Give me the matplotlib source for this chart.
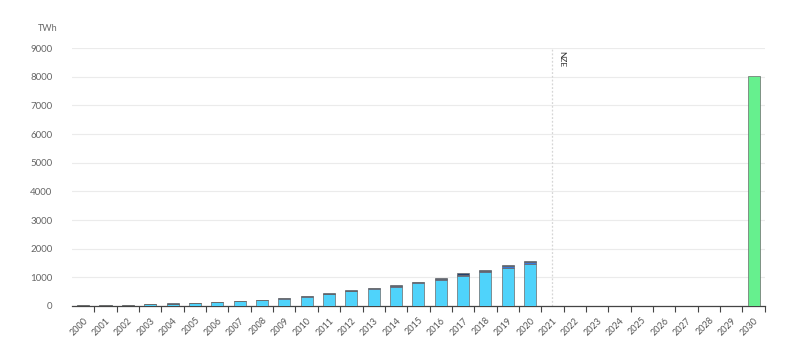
import matplotlib
matplotlib.use("Agg")
import matplotlib.pyplot as plt
import numpy as np

plt.rcParams['font.family'] = ['Lato', 'DejaVu Sans']

years = [str(y) for y in range(2000, 2031)]
# historical generation, TWh (light / mid / dark segments)
base = [22, 30, 38, 58, 80, 100, 125, 160, 200, 260, 320, 410, 510, 600, 665, 795, 900, 1050, 1180, 1330, 1465,
        0, 0, 0, 0, 0, 0, 0, 0, 0, 0]
mid = [4, 5, 5, 5, 6, 6, 8, 8, 8, 10, 12, 15, 20, 20, 30, 30, 35, 45, 45, 50, 60,
       0, 0, 0, 0, 0, 0, 0, 0, 0, 0]
top = [4, 5, 5, 5, 6, 6, 7, 7, 7, 8, 10, 12, 15, 18, 25, 25, 30, 40, 40, 45, 50,
       0, 0, 0, 0, 0, 0, 0, 0, 0, 0]
nze = [0] * 30 + [8020]

x = np.arange(len(years))
fig = plt.figure(figsize=(8, 3.48), dpi=100)
ax = fig.add_axes([0.09, 0.1207, 0.866, 0.7413])

w = 0.54
edge = dict(edgecolor='#6a6a6a', linewidth=0.5)
b = np.array(base)
m = np.array(mid)
ax.bar(x, base, w, color='#4fd3fb', **edge, zorder=3)
ax.bar(x, mid, w, bottom=b, color='#3a78d8', **edge, zorder=3)
ax.bar(x, top, w, bottom=b + m, color='#22406e', **edge, zorder=3)
ax.bar(x, nze, w, color='#66f08e', **edge, zorder=3)

ax.axvline(21, color='#d6d6d6', linestyle=(0, (1.5, 1.5)), linewidth=0.9, zorder=2)
ax.text(21.25, 8880, 'NZE', rotation=-90, fontsize=6, color='#333333', va='top', ha='left')

ax.set_xlim(-0.5, 30.5)
ax.set_ylim(0, 9000)
ax.set_yticks(range(0, 9001, 1000))
ax.yaxis.grid(True, color='#ebebeb', linewidth=0.8, zorder=0)
ax.tick_params(axis='y', length=0, labelsize=7, labelcolor='#666666', pad=14)

ax.set_xticks(x)
ax.set_xticklabels(years, rotation=45, ha='right', rotation_mode='anchor',
                   fontsize=6.5, color='#555555')
ax.set_xticks(x + 0.5, minor=True)
ax.tick_params(axis='x', which='major', length=0, pad=7)
ax.tick_params(axis='x', which='minor', length=4, width=0.8, color='#444444')

for s in ['left', 'right', 'top']:
    ax.spines[s].set_visible(False)
ax.spines['bottom'].set_color('#444444')
ax.spines['bottom'].set_linewidth(0.9)
ax.set_axisbelow(True)

fig.text(0.047, 0.912, 'TWh', fontsize=6.5, color='#666666')

fig.savefig('out.png', dpi=100)
